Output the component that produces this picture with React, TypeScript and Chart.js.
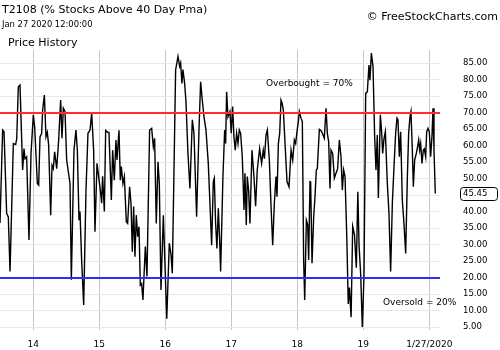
import React, { useEffect, useRef } from "react";
import { Chart, registerables } from "chart.js";

Chart.register(...registerables);

// ---- text ----
const chartTitle = "T2108 (% Stocks Above 40 Day Pma)";
const timestampText = "Jan 27 2020 12:00:00";
const panelLabel = "Price History";
const creditText = "© FreeStockCharts.com";
const overboughtLabel = "Overbought = 70%";
const oversoldLabel = "Oversold = 20%";

// ---- thresholds ----
const overboughtLevel = 70;
const oversoldLevel = 20;

// ---- time (decimal years) of each vertex of the T2108 line ----
const dates: number[] = [
  2013.495, 2013.535, 2013.556, 2013.596, 2013.621, 2013.647, 2013.697, 2013.732, 2013.748, 2013.773,
  2013.798, 2013.838, 2013.859, 2013.874, 2013.899, 2013.934, 2013.965, 2014.0, 2014.02, 2014.061,
  2014.081, 2014.101, 2014.126, 2014.141, 2014.167, 2014.192, 2014.212, 2014.232, 2014.263, 2014.283,
  2014.303, 2014.323, 2014.354, 2014.384, 2014.414, 2014.434, 2014.455, 2014.48, 2014.505, 2014.556,
  2014.576, 2014.616, 2014.646, 2014.667, 2014.692, 2014.707, 2014.732, 2014.763, 2014.798, 2014.828,
  2014.859, 2014.884, 2014.914, 2014.934, 2014.965, 2014.99, 2015.015, 2015.035, 2015.05, 2015.076,
  2015.096, 2015.126, 2015.146, 2015.182, 2015.202, 2015.227, 2015.252, 2015.268, 2015.298, 2015.318,
  2015.333, 2015.358, 2015.379, 2015.409, 2015.429, 2015.459, 2015.48, 2015.5, 2015.52, 2015.54,
  2015.56, 2015.581, 2015.601, 2015.621, 2015.641, 2015.661, 2015.697, 2015.722, 2015.762, 2015.793,
  2015.818, 2015.838, 2015.863, 2015.889, 2015.909, 2015.934, 2015.97, 2016.022, 2016.06, 2016.086,
  2016.106, 2016.156, 2016.192, 2016.217, 2016.232, 2016.252, 2016.267, 2016.293, 2016.313, 2016.343,
  2016.373, 2016.409, 2016.434, 2016.474, 2016.51, 2016.535, 2016.56, 2016.586, 2016.616, 2016.651,
  2016.676, 2016.702, 2016.727, 2016.742, 2016.762, 2016.782, 2016.803, 2016.823, 2016.838, 2016.873,
  2016.899, 2016.914, 2016.929, 2016.949, 2016.979, 2016.999, 2017.02, 2017.04, 2017.06, 2017.08,
  2017.101, 2017.121, 2017.141, 2017.166, 2017.192, 2017.207, 2017.227, 2017.242, 2017.262, 2017.282,
  2017.313, 2017.343, 2017.368, 2017.393, 2017.429, 2017.459, 2017.484, 2017.501, 2017.526, 2017.546,
  2017.576, 2017.602, 2017.627, 2017.652, 2017.677, 2017.692, 2017.713, 2017.733, 2017.753, 2017.768,
  2017.788, 2017.814, 2017.844, 2017.874, 2017.905, 2017.93, 2017.955, 2017.975, 2017.995, 2018.016,
  2018.031, 2018.056, 2018.076, 2018.096, 2018.112, 2018.137, 2018.157, 2018.172, 2018.192, 2018.202,
  2018.223, 2018.248, 2018.268, 2018.288, 2018.303, 2018.334, 2018.364, 2018.389, 2018.409, 2018.435,
  2018.455, 2018.475, 2018.495, 2018.511, 2018.536, 2018.561, 2018.586, 2018.611, 2018.637, 2018.662,
  2018.682, 2018.702, 2018.723, 2018.75, 2018.772, 2018.79, 2018.815, 2018.839, 2018.866, 2018.894,
  2018.917, 2018.935, 2018.96, 2018.985, 2019.01, 2019.036, 2019.061, 2019.086, 2019.101, 2019.122,
  2019.147, 2019.172, 2019.192, 2019.212, 2019.228, 2019.258, 2019.278, 2019.293, 2019.313, 2019.334,
  2019.364, 2019.389, 2019.414, 2019.44, 2019.465, 2019.49, 2019.51, 2019.525, 2019.546, 2019.566,
  2019.591, 2019.616, 2019.642, 2019.667, 2019.687, 2019.707, 2019.722, 2019.743, 2019.758, 2019.778,
  2019.803, 2019.823, 2019.839, 2019.854, 2019.869, 2019.889, 2019.909, 2019.924, 2019.945, 2019.96,
  2019.98, 2020.0, 2020.02, 2020.041, 2020.056, 2020.071, 2020.091,
];

// ---- T2108 values (%) ----
const values: number[] = [
  36.5, 64.7, 64.2, 39.4, 38.4, 21.8, 60.6, 60.3, 62, 77.8,
  78.3, 52.6, 59.1, 56, 56.6, 31.4, 57.6, 69.3, 65.7, 48.5,
  48, 62.6, 63.6, 70.7, 75.3, 62.6, 64, 60.2, 38.9, 54,
  53, 58.1, 53, 61.7, 73.8, 62.2, 71.3, 70.3, 55.6, 48.5,
  19.3, 58.6, 64.7, 58.6, 37.4, 40, 25.3, 11.7, 46.5, 63.7,
  64.7, 69.8, 58.6, 33.9, 54.6, 50.6, 46.5, 42.5, 50.7, 40,
  64.6, 64, 64, 43.5, 58.6, 49.5, 61.7, 55.6, 64.6, 49.5,
  53.6, 48.5, 50.6, 36.9, 36.4, 47.5, 42.5, 27.8, 41.5, 26.3,
  38.9, 32.4, 35.4, 17.7, 18.2, 13.2, 29.4, 20.3, 64.7, 65.2,
  59.7, 62.2, 36.4, 55.1, 48.5, 16.2, 38.9, 7.5, 30.4, 27,
  21.3, 82.9, 87, 84, 85, 78.8, 83, 78.8, 73.3, 57.6,
  47, 67.8, 63.7, 38.4, 64.7, 79.3, 73.8, 68.7, 64.7, 54.6,
  42.5, 29.8, 49.1, 50.1, 36.4, 28.8, 41, 31.4, 21.8, 50.6,
  64.7, 60.6, 76.3, 68.7, 70.3, 63.7, 71.8, 62.6, 58.6, 63.7,
  60.6, 64.7, 63.7, 56.6, 40.5, 51.6, 35.9, 50.6, 46.5, 36.4,
  58.6, 50.6, 41.6, 52.6, 59.1, 54.6, 58.6, 56, 63.2, 64.7,
  55.6, 41.5, 29.8, 42.5, 50.6, 44.5, 60.6, 63.7, 73.8, 73,
  70.8, 60.6, 49.1, 47.5, 58.6, 55.6, 61.7, 60.6, 64.2, 67.3,
  70.3, 68.3, 67.3, 25.3, 13.2, 37.4, 36, 25.3, 49.1, 49,
  24.3, 38.4, 44.5, 52.6, 53, 64.9, 64.4, 63.2, 62.2, 71.3,
  63.7, 61.2, 47, 58.6, 57.6, 50.1, 51.6, 53, 61.7, 56.6,
  46.5, 52.6, 50.6, 32, 12, 17, 8, 35.5, 33, 23,
  46, 30, 21, 5, 20.3, 75.8, 76.3, 84.4, 79.8, 88,
  83.9, 62.6, 52.6, 63.2, 44.1, 69.3, 64, 57.6, 62, 64.2,
  48.5, 39.4, 21.8, 42.5, 53.6, 63.7, 68.3, 67.8, 56.6, 64.2,
  43.5, 36.4, 27.3, 50.1, 63.7, 68.7, 70.3, 58.6, 47.5, 55.6,
  57.6, 59.7, 61.7, 58.6, 60.6, 54.6, 58.6, 59, 56.6, 64.2,
  65.2, 64.2, 56.6, 63, 71.3, 58.6, 45.45,
];

// ---- axes ----
const xTickValues = [2014, 2015, 2016, 2017, 2018, 2019, 2020];
const xTickLabels = ["14", "15", "16", "17", "18", "19", "1/27/2020"];
const yTickValues = [5, 10, 15, 20, 25, 30, 35, 40, 45, 50, 55, 60, 65, 70, 75, 80, 85];

const FONT = "'DejaVu Sans', Verdana, sans-serif";

export default function App() {
  const canvasRef = useRef<HTMLCanvasElement | null>(null);

  useEffect(() => {
    document.body.style.margin = "0";
    const canvas = canvasRef.current;
    if (!canvas) return;

    const lastValue = values[values.length - 1];

    const overlay = {
      id: "overlay",
      afterDraw(chart: any) {
        const ctx = chart.ctx;
        const area = chart.chartArea;
        const y = chart.scales.y;
        ctx.save();

        // threshold lines
        const drawLevel = (level: number, color: string) => {
          const py = Math.round(y.getPixelForValue(level));
          ctx.strokeStyle = color;
          ctx.lineWidth = 2;
          ctx.beginPath();
          ctx.moveTo(area.left, py);
          ctx.lineTo(area.right, py);
          ctx.stroke();
        };
        drawLevel(overboughtLevel, "#ff2d2d");
        drawLevel(oversoldLevel, "#2d2dff");

        // annotation labels
        ctx.fillStyle = "#000";
        ctx.textBaseline = "middle";
        ctx.textAlign = "left";
        ctx.font = `9px ${FONT}`;
        ctx.fillText(overboughtLabel, area.left + 266, y.getPixelForValue(overboughtLevel) - 29);
        ctx.fillText(oversoldLabel, area.left + 383, y.getPixelForValue(oversoldLevel) + 25);

        // header texts
        ctx.font = `11px ${FONT}`;
        ctx.fillText(chartTitle, 2, 10);
        ctx.font = `8.4px ${FONT}`;
        ctx.fillText(timestampText, 2, 25);
        ctx.font = `11px ${FONT}`;
        ctx.fillText(panelLabel, 8, 43);
        ctx.textAlign = "right";
        ctx.fillText(creditText, 498, 17);

        // last value box
        const ly = y.getPixelForValue(lastValue);
        const bx = area.right + 20.5;
        const bw = 37;
        const bh = 13;
        const by = Math.round(ly - bh / 2) + 0.5;
        ctx.beginPath();
        (ctx as any).roundRect(bx, by, bw, bh, 3);
        ctx.fillStyle = "#fff";
        ctx.fill();
        ctx.strokeStyle = "#000";
        ctx.lineWidth = 1;
        ctx.stroke();
        ctx.fillStyle = "#000";
        ctx.textAlign = "left";
        ctx.font = `8.5px ${FONT}`;
        ctx.fillText(lastValue.toFixed(2), bx + 2.5, ly + 0.5);

        ctx.restore();
      },
    };

    const chart = new Chart(canvas, {
      type: "line",
      data: {
        datasets: [
          {
            label: "T2108",
            data: dates.map((d, i) => ({ x: d, y: values[i] })),
            borderColor: "#000",
            borderWidth: 1.4,
            pointRadius: 0,
            tension: 0,
            fill: false,
          },
        ],
      },
      options: {
        animation: false,
        responsive: false,
        devicePixelRatio: 1,
        layout: { padding: { top: 50, left: 0, right: 0, bottom: 0 } },
        plugins: {
          legend: { display: false },
          tooltip: { enabled: false },
          title: { display: false },
        },
        scales: {
          x: {
            type: "linear",
            min: 2013.495,
            max: 2020.162,
            afterBuildTicks: (scale: any) => {
              scale.ticks = xTickValues.map((v) => ({ value: v }));
            },
            afterFit: (scale: any) => {
              scale.height = 20;
              scale.paddingLeft = 0;
              scale.paddingRight = 0;
            },
            ticks: {
              autoSkip: false,
              maxRotation: 0,
              padding: 9,
              color: "#000",
              font: { family: FONT, size: 9 },
              callback: (_v: any, i: number) => xTickLabels[i],
            },
            grid: { color: "#c4c4c4", lineWidth: 1, drawTicks: false },
            border: { display: false },
          },
          y: {
            position: "right",
            min: 4.1,
            max: 88.95,
            afterBuildTicks: (scale: any) => {
              scale.ticks = yTickValues.map((v) => ({ value: v }));
            },
            afterFit: (scale: any) => {
              scale.width = 60;
              scale.paddingTop = 0;
              scale.paddingBottom = 0;
            },
            ticks: {
              padding: 23,
              color: "#000",
              font: { family: FONT, size: 8.5 },
              callback: (v: any) => Number(v).toFixed(2),
            },
            grid: { color: "#e8e8e8", lineWidth: 1, drawTicks: false },
            border: { display: false },
          },
        },
      },
      plugins: [overlay],
    });

    return () => chart.destroy();
  }, []);

  return (
    <div style={{ position: "relative", width: 500, height: 350, background: "#fff" }}>
      <canvas ref={canvasRef} width={500} height={350} style={{ display: "block" }} />
    </div>
  );
}
